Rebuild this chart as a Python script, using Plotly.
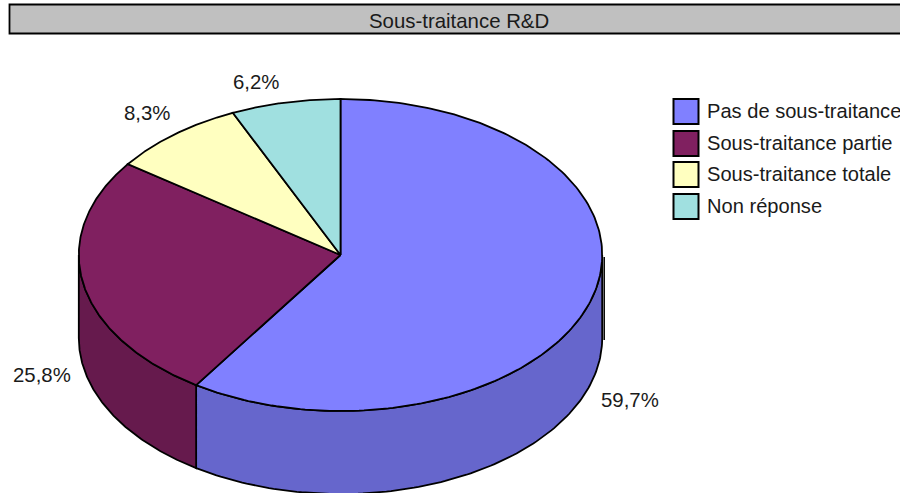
import numpy as np
import plotly.graph_objects as go

categories = ["Pas de sous-traitance", "Sous-traitance partie", "Sous-traitance totale", "Non réponse"]
value_labels = ["59,7%", "25,8%", "8,3%", "6,2%"]
slice_shares = [59.3, 25.6, 8.35, 6.75]
title_text = "Sous-traitance R&D"

top_colors = ["#8080FF", "#802060", "#FFFFC0", "#A0E0E0"]
side_colors = ["#6666CC", "#661A4D", "#FFFFC0", "#A0E0E0"]

W, H = 900, 493
CX, CY, RX, RY, DEPTH = 340.5, 255, 261.7, 156, 83
FONT = "Liberation Sans, Arial, sans-serif"
TEXT_SIZE = 20.4
LINE = dict(color="#000000", width=1.8)


def ell(a_deg, dy=0.0):
    a = np.radians(a_deg)
    return CX + RX * np.sin(a), CY - RY * np.cos(a) + dy


fracs = np.array(slice_shares) / sum(slice_shares) * 360
ends = np.cumsum(fracs)
starts = ends - fracs

fig = go.Figure()


def poly(x, y, fill, line=LINE):
    fig.add_trace(go.Scatter(x=list(x), y=list(y), mode="lines", fill="toself",
                             fillcolor=fill, line=line, hoverinfo="skip",
                             showlegend=False))


# Visible outer walls (front half of the disc, 90 to 270 degrees)
for s, e, col in zip(starts, ends, side_colors):
    lo, hi = max(s, 90), min(e, 270)
    if hi <= lo:
        continue
    t = np.linspace(lo, hi, 120)
    xt, yt = ell(t)
    xb, yb = ell(t, DEPTH)
    poly(np.r_[xt, xb[::-1], xt[0]], np.r_[yt, yb[::-1], yt[0]], col)

# Top faces
for s, e, col in zip(starts, ends, top_colors):
    t = np.linspace(s, e, 200)
    xt, yt = ell(t)
    poly(np.r_[CX, xt, CX], np.r_[CY, yt, CY], col)

# Stray outline at the right of the wall, present in the reference
xr, yr = ell(90)
fig.add_trace(go.Scatter(x=[xr + 2, xr + 2], y=[yr + 2, yr + DEPTH + 2], mode="lines",
                         line=dict(color="#000000", width=1.5), hoverinfo="skip",
                         showlegend=False))

# Percentage labels
label_x = [629.5, 42, 147, 256]
label_y = [400, 375, 113, 82]
annotations = [dict(x=xx, y=yy, xref="x", yref="y", text=t, showarrow=False,
                    xanchor="center", yanchor="middle",
                    font=dict(family=FONT, size=TEXT_SIZE, color="#1a1a1a"))
               for xx, yy, t in zip(label_x, label_y, value_labels)]

# Legend
leg_y = [111.5, 143.5, 174.5, 206.5]
fig.add_trace(go.Scatter(x=[686] * 4, y=leg_y, mode="markers",
                         marker=dict(symbol="square", size=25, color=top_colors,
                                     line=dict(color="#000000", width=2)),
                         hoverinfo="skip", showlegend=False))
annotations += [dict(x=704.5, y=yy - 0.5, xref="x", yref="y", text=c, showarrow=False,
                     xanchor="left", yanchor="middle",
                     font=dict(family=FONT, size=20.1, color="#1a1a1a"))
                for c, yy in zip(categories, leg_y)]
annotations.append(dict(x=458.5, y=21, xref="x", yref="y", text=title_text, showarrow=False,
                        xanchor="center", yanchor="middle",
                        font=dict(family=FONT, size=TEXT_SIZE, color="#1a1a1a")))

fig.update_layout(
    width=W, height=H, autosize=False,
    margin=dict(l=0, r=0, t=0, b=0, pad=0),
    paper_bgcolor="#FFFFFF", plot_bgcolor="#FFFFFF",
    showlegend=False,
    xaxis=dict(range=[0, W], visible=False, fixedrange=True),
    yaxis=dict(range=[H, 0], visible=False, fixedrange=True),
    annotations=annotations,
    shapes=[dict(type="rect", x0=9.5, x1=910, y0=4.5, y1=33.5, xref="x", yref="y",
                 fillcolor="#C0C0C0", line=dict(color="#000000", width=1.8), layer="below")],
)
fig.write_html("out.html", config={"displayModeBar": False},
               post_script="document.body.style.margin='0';")
